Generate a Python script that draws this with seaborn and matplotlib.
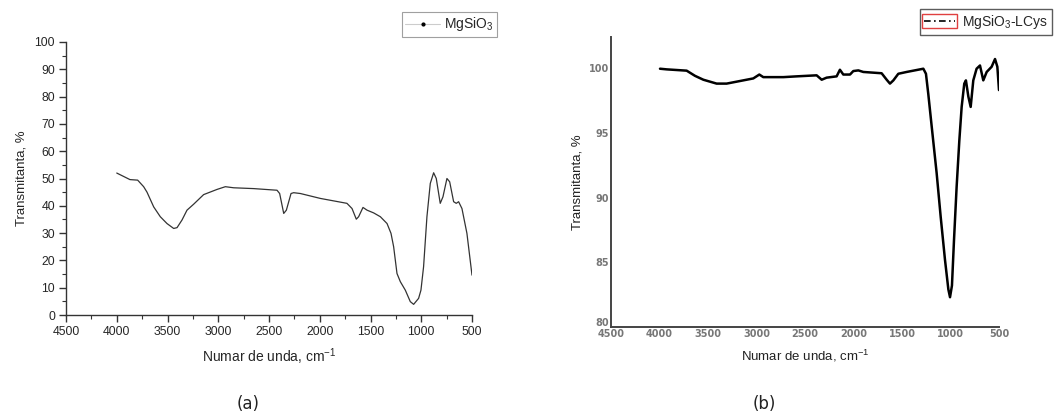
import matplotlib
matplotlib.use("Agg")
import matplotlib.pyplot as plt
import matplotlib.transforms as mtransforms
import seaborn as sns
import pandas as pd
import numpy as np
from matplotlib.lines import Line2D
from matplotlib.patches import Rectangle
from matplotlib.ticker import MultipleLocator

# ---- data (a) MgSiO3 ----
wn_a = [4000, 3870, 3794, 3735, 3702, 3636, 3571, 3505, 3439, 3406, 3357, 3308, 3242, 3144,
        3012, 2930, 2848, 2651, 2421, 2395, 2355, 2329, 2283, 2257, 2191, 1994, 1732, 1682,
        1640, 1617, 1574, 1534, 1469, 1403, 1337, 1298, 1272, 1239, 1206, 1157, 1108, 1075,
        1026, 1003, 977, 944, 911, 878, 852, 813, 786, 747, 720, 681, 655, 632, 599, 550, 500]
tr_a = [52.0, 49.6, 49.4, 47.0, 45.0, 39.6, 36.0, 33.5, 31.7, 32.0, 34.8, 38.4, 40.6, 44.1,
        46.0, 47.0, 46.6, 46.3, 45.7, 44.5, 37.2, 38.4, 44.5, 44.8, 44.5, 42.7, 40.9, 39.0,
        35.1, 36.0, 39.4, 38.4, 37.4, 36.0, 33.5, 29.9, 25.0, 15.2, 12.2, 9.1, 4.9, 3.9,
        6.1, 9.1, 17.7, 36.0, 48.2, 52.1, 50.0, 40.9, 43.3, 50.0, 48.8, 41.5, 40.9, 41.5, 39.0, 29.9, 14.6]

# ---- data (b) MgSiO3-LCys ----
wn_b = [3995, 3926, 3720, 3634, 3548, 3411, 3308, 3136, 3033, 2971, 2930, 2723, 2586, 2380,
        2328, 2277, 2174, 2140, 2105, 2036, 2002, 1950, 1899, 1710, 1658, 1624, 1589, 1538,
        1452, 1383, 1280, 1253, 1229, 1194, 1143, 1101, 1057, 1022, 1005, 985, 964, 937, 909,
        885, 858, 841, 816, 792, 765, 731, 696, 662, 627, 576, 541, 517, 500]
tr_b = [99.95, 99.9, 99.8, 99.4, 99.1, 98.8, 98.8, 99.05, 99.2, 99.5, 99.3, 99.3, 99.36, 99.44,
        99.1, 99.26, 99.36, 99.87, 99.5, 99.5, 99.77, 99.82, 99.7, 99.6, 99.1, 98.8, 99.05, 99.56,
        99.7, 99.8, 99.95, 99.56, 98.0, 95.5, 91.9, 88.5, 85.2, 82.9, 82.3, 83.2, 86.7, 90.8, 94.4,
        97.0, 98.8, 99.05, 97.8, 97.0, 99.05, 99.95, 100.2, 99.05, 99.7, 100.1, 100.7, 100.1, 98.3]

label_a = "MgSiO$_3$"
label_b = "MgSiO$_3$-LCys"
xlabel = "Numar de unda, cm$^{-1}$"
ylabel = "Transmitanta, %"
xticks = [4500, 4000, 3500, 3000, 2500, 2000, 1500, 1000, 500]
yticks_a = [0, 10, 20, 30, 40, 50, 60, 70, 80, 90, 100]
yticks_b = [80, 85, 90, 95, 100]

sns.set_style("ticks")
plt.rcParams['font.family'] = ['Liberation Sans', 'DejaVu Sans']
plt.rcParams['mathtext.fontset'] = 'custom'
plt.rcParams['mathtext.rm'] = 'Liberation Sans'

fig = plt.figure(figsize=(10.54, 4.16), dpi=100)
W, H = 1054, 416

def fax(l, t, r, b):
    return fig.add_axes([l / W, 1 - b / H, (r - l) / W, (b - t) / H])

# ---- panel (a) ----
ax1 = fax(66, 42, 472, 315)
df_a = pd.DataFrame({"w": wn_a, "t": tr_a})
sns.lineplot(data=df_a, x="w", y="t", ax=ax1, color="#333333", linewidth=0.9, estimator=None)
ax1.set_xlim(4500, 500)
ax1.set_ylim(0, 100)
ax1.set_xticks(xticks)
ax1.set_yticks(yticks_a)
ax1.xaxis.set_minor_locator(MultipleLocator(250))
ax1.yaxis.set_minor_locator(MultipleLocator(5))
for s in ["top", "right"]:
    ax1.spines[s].set_visible(False)
for s in ["left", "bottom"]:
    ax1.spines[s].set_color("#333333")
    ax1.spines[s].set_linewidth(1.0)
ax1.tick_params(which="major", length=5, width=1, color="#333333", labelsize=8.8, pad=3)
ax1.tick_params(which="minor", length=3, width=0.8, color="#333333")
ax1.set_xlabel(xlabel, fontsize=10, labelpad=6)
ax1.set_ylabel(ylabel, fontsize=9.5, labelpad=5)
h_a = Line2D([], [], color="#cccccc", lw=0.8, marker=".", markersize=4,
             markerfacecolor="black", markeredgecolor="black")
leg1 = fig.legend([h_a], [label_a], loc="upper right",
                  bbox_to_anchor=(497 / W, 1 - 12 / H), fancybox=False, frameon=True,
                  edgecolor="#888888", fontsize=10, handlelength=2.5, borderpad=0.25,
                  handletextpad=0.3, borderaxespad=0)
leg1.get_frame().set_linewidth(0.8)

# ---- panel (b) ----
ax2 = fax(611, 37, 999, 327)
df_b = pd.DataFrame({"w": wn_b, "t": tr_b})
sns.lineplot(data=df_b, x="w", y="t", ax=ax2, color="black", linewidth=1.8, estimator=None)
ax2.set_xlim(4500, 500)
ax2.set_ylim(80, 102.4)
ax2.set_xticks(xticks)
ax2.set_yticks(yticks_b)
for s in ["top", "right"]:
    ax2.spines[s].set_visible(False)
for s in ["left", "bottom"]:
    ax2.spines[s].set_color("#444444")
    ax2.spines[s].set_linewidth(1.4)
ax2.tick_params(length=0, labelsize=7, labelcolor="#777777", pad=1.5)
for lab in ax2.get_xticklabels() + ax2.get_yticklabels():
    lab.set_family("DejaVu Sans")
    lab.set_fontweight("bold")
# lift the lowest y label a little so it does not sit on top of "4500"
ylabs = ax2.get_yticklabels()
ylabs[0].set_transform(ylabs[0].get_transform() +
                       mtransforms.ScaledTranslation(0, 5 / 100, fig.dpi_scale_trans))
ax2.set_xlabel(xlabel, fontsize=9.5, labelpad=6, color="#222222")
ax2.set_ylabel(ylabel, fontsize=9.5, labelpad=4, color="#222222")
h_b = Line2D([], [], color="black", lw=1.2, linestyle=(0, (4, 2, 1, 2)))
leg2 = fig.legend([h_b], [label_b], loc="upper left",
                  bbox_to_anchor=(920 / W, 1 - 9 / H), fancybox=False, frameon=True,
                  edgecolor="#333333", fontsize=10, handlelength=2.2, borderpad=0.3,
                  handletextpad=0.5, borderaxespad=0)
leg2.get_frame().set_linewidth(1.0)
# shift legend content right so the handle sits inside, like the reference
leg2._legend_box.set_offset  # ensure exists
fig.canvas.draw()
renderer = fig.canvas.get_renderer()
bb = leg2.get_lines()[0].get_window_extent(renderer)
lb = leg2.get_window_extent(renderer)
cy = (bb.y0 + bb.y1) / 2
rect = Rectangle((bb.x0 - 2, cy - 7), (bb.x1 - bb.x0) + 4, 14,
                 transform=None, fill=False, edgecolor="#e04040", linewidth=1.0, zorder=20)
fig.add_artist(rect)

fig.text(248 / W, 1 - 404 / H, "(a)", ha="center", va="center", fontsize=12,
         family="DejaVu Sans", color="#222222")
fig.text(764 / W, 1 - 404 / H, "(b)", ha="center", va="center", fontsize=12,
         family="DejaVu Sans", color="#222222")

fig.savefig("out.png", dpi=100)
